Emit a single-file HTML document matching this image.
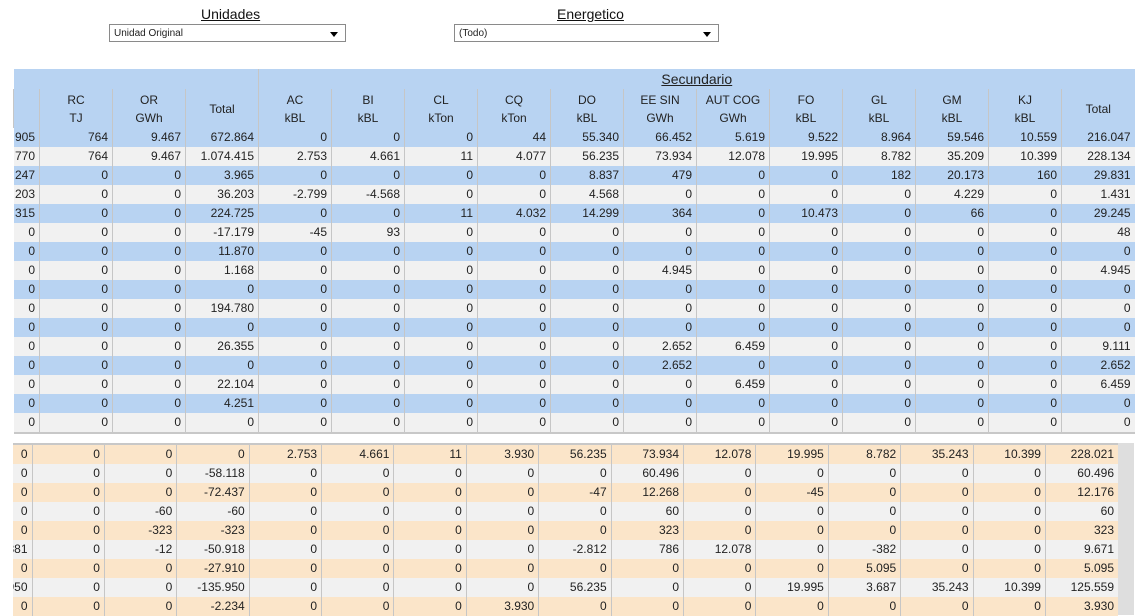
<!DOCTYPE html>
<html><head><meta charset="utf-8"><style>
body{margin:0;width:1144px;height:615px;overflow:hidden;background:#fff;font-family:"Liberation Sans",Arial,sans-serif;color:#222;position:relative}
.ttl{position:absolute;top:6px;font-size:14px;text-decoration:underline;color:#111}
.sel{position:absolute;top:24px;height:18px;border:1px solid #8a8a8a;background:#fff;font-size:10px;line-height:18px;padding-left:4px;box-sizing:border-box}
.sel:after{content:"";position:absolute;right:7px;top:7px;border-left:4px solid transparent;border-right:4px solid transparent;border-top:5px solid #000}
table{position:absolute;border-collapse:collapse;table-layout:fixed;font-size:12px}
td{padding:0 4px 0 0;text-align:right;overflow:hidden;white-space:nowrap;border-left:1px solid #c6c6c6;height:19px;line-height:19px;box-sizing:border-box}
td:first-child{direction:rtl;text-align:right}
#t1{left:13px;top:69px;width:1121px;border-bottom:2px solid #c8c8c8}
#t1 th{font-weight:normal;text-align:center;background:#b8d3f2;font-size:12px;line-height:18px;padding:0;border-left:1px solid #c6c6c6;box-sizing:border-box}
#t1 tr.b td{background:#b8d3f2}
#t1 tr.g td{background:#f1f1f1}
#t2{left:13px;top:443px;width:1105px;border-top:2px solid #c8c8c8}
#t2 tr.o td{background:#fbe5c9}
#t2 tr.g td{background:#f1f1f1}
td:first-child,th:first-child{border-left:none}
.sb{position:absolute;left:1118px;top:443px;width:16px;height:172px;background:#dedede}
</style></head><body>
<div class="ttl" style="left:201px">Unidades</div>
<div class="ttl" style="left:557px">Energetico</div>
<div class="sel" style="left:109px;width:237px">Unidad Original</div>
<div class="sel" style="left:454px;width:265px">(Todo)</div>

<table id="t1">
<colgroup><col style="width:26px"><col span="15" style="width:73px"></colgroup>
<tr><th colspan="4" style="border-left:none;height:20px"></th><th colspan="12" style="height:20px;font-size:14px;text-decoration:underline;vertical-align:bottom;line-height:20px">Secundario</th></tr>
<tr><th style="height:39px"></th><th>RC<br>TJ</th><th>OR<br>GWh</th><th>Total</th><th>AC<br>kBL</th><th>BI<br>kBL</th><th>CL<br>kTon</th><th>CQ<br>kTon</th><th>DO<br>kBL</th><th>EE SIN<br>GWh</th><th>AUT COG<br>GWh</th><th>FO<br>kBL</th><th>GL<br>kBL</th><th>GM<br>kBL</th><th>KJ<br>kBL</th><th>Total</th></tr>
<tr class="b"><td>7.905</td><td>764</td><td>9.467</td><td>672.864</td><td>0</td><td>0</td><td>0</td><td>44</td><td>55.340</td><td>66.452</td><td>5.619</td><td>9.522</td><td>8.964</td><td>59.546</td><td>10.559</td><td>216.047</td></tr>
<tr class="g"><td>3.770</td><td>764</td><td>9.467</td><td>1.074.415</td><td>2.753</td><td>4.661</td><td>11</td><td>4.077</td><td>56.235</td><td>73.934</td><td>12.078</td><td>19.995</td><td>8.782</td><td>35.209</td><td>10.399</td><td>228.134</td></tr>
<tr class="b"><td>2.247</td><td>0</td><td>0</td><td>3.965</td><td>0</td><td>0</td><td>0</td><td>0</td><td>8.837</td><td>479</td><td>0</td><td>0</td><td>182</td><td>20.173</td><td>160</td><td>29.831</td></tr>
<tr class="g"><td>5.203</td><td>0</td><td>0</td><td>36.203</td><td>-2.799</td><td>-4.568</td><td>0</td><td>0</td><td>4.568</td><td>0</td><td>0</td><td>0</td><td>0</td><td>4.229</td><td>0</td><td>1.431</td></tr>
<tr class="b"><td>9.315</td><td>0</td><td>0</td><td>224.725</td><td>0</td><td>0</td><td>11</td><td>4.032</td><td>14.299</td><td>364</td><td>0</td><td>10.473</td><td>0</td><td>66</td><td>0</td><td>29.245</td></tr>
<tr class="g"><td>0</td><td>0</td><td>0</td><td>-17.179</td><td>-45</td><td>93</td><td>0</td><td>0</td><td>0</td><td>0</td><td>0</td><td>0</td><td>0</td><td>0</td><td>0</td><td>48</td></tr>
<tr class="b"><td>0</td><td>0</td><td>0</td><td>11.870</td><td>0</td><td>0</td><td>0</td><td>0</td><td>0</td><td>0</td><td>0</td><td>0</td><td>0</td><td>0</td><td>0</td><td>0</td></tr>
<tr class="g"><td>0</td><td>0</td><td>0</td><td>1.168</td><td>0</td><td>0</td><td>0</td><td>0</td><td>0</td><td>4.945</td><td>0</td><td>0</td><td>0</td><td>0</td><td>0</td><td>4.945</td></tr>
<tr class="b"><td>0</td><td>0</td><td>0</td><td>0</td><td>0</td><td>0</td><td>0</td><td>0</td><td>0</td><td>0</td><td>0</td><td>0</td><td>0</td><td>0</td><td>0</td><td>0</td></tr>
<tr class="g"><td>0</td><td>0</td><td>0</td><td>194.780</td><td>0</td><td>0</td><td>0</td><td>0</td><td>0</td><td>0</td><td>0</td><td>0</td><td>0</td><td>0</td><td>0</td><td>0</td></tr>
<tr class="b"><td>0</td><td>0</td><td>0</td><td>0</td><td>0</td><td>0</td><td>0</td><td>0</td><td>0</td><td>0</td><td>0</td><td>0</td><td>0</td><td>0</td><td>0</td><td>0</td></tr>
<tr class="g"><td>0</td><td>0</td><td>0</td><td>26.355</td><td>0</td><td>0</td><td>0</td><td>0</td><td>0</td><td>2.652</td><td>6.459</td><td>0</td><td>0</td><td>0</td><td>0</td><td>9.111</td></tr>
<tr class="b"><td>0</td><td>0</td><td>0</td><td>0</td><td>0</td><td>0</td><td>0</td><td>0</td><td>0</td><td>2.652</td><td>0</td><td>0</td><td>0</td><td>0</td><td>0</td><td>2.652</td></tr>
<tr class="g"><td>0</td><td>0</td><td>0</td><td>22.104</td><td>0</td><td>0</td><td>0</td><td>0</td><td>0</td><td>0</td><td>6.459</td><td>0</td><td>0</td><td>0</td><td>0</td><td>6.459</td></tr>
<tr class="b"><td>0</td><td>0</td><td>0</td><td>4.251</td><td>0</td><td>0</td><td>0</td><td>0</td><td>0</td><td>0</td><td>0</td><td>0</td><td>0</td><td>0</td><td>0</td><td>0</td></tr>
<tr class="g"><td>0</td><td>0</td><td>0</td><td>0</td><td>0</td><td>0</td><td>0</td><td>0</td><td>0</td><td>0</td><td>0</td><td>0</td><td>0</td><td>0</td><td>0</td><td>0</td></tr>
</table>

<table id="t2">
<colgroup><col style="width:19px"><col span="15" style="width:72.4px"></colgroup>
<tr class="o"><td>0</td><td>0</td><td>0</td><td>0</td><td>2.753</td><td>4.661</td><td>11</td><td>3.930</td><td>56.235</td><td>73.934</td><td>12.078</td><td>19.995</td><td>8.782</td><td>35.243</td><td>10.399</td><td>228.021</td></tr>
<tr class="g"><td>0</td><td>0</td><td>0</td><td>-58.118</td><td>0</td><td>0</td><td>0</td><td>0</td><td>0</td><td>60.496</td><td>0</td><td>0</td><td>0</td><td>0</td><td>0</td><td>60.496</td></tr>
<tr class="o"><td>0</td><td>0</td><td>0</td><td>-72.437</td><td>0</td><td>0</td><td>0</td><td>0</td><td>-47</td><td>12.268</td><td>0</td><td>-45</td><td>0</td><td>0</td><td>0</td><td>12.176</td></tr>
<tr class="g"><td>0</td><td>0</td><td>-60</td><td>-60</td><td>0</td><td>0</td><td>0</td><td>0</td><td>0</td><td>60</td><td>0</td><td>0</td><td>0</td><td>0</td><td>0</td><td>60</td></tr>
<tr class="o"><td>0</td><td>0</td><td>-323</td><td>-323</td><td>0</td><td>0</td><td>0</td><td>0</td><td>0</td><td>323</td><td>0</td><td>0</td><td>0</td><td>0</td><td>0</td><td>323</td></tr>
<tr class="g"><td>381</td><td>0</td><td>-12</td><td>-50.918</td><td>0</td><td>0</td><td>0</td><td>0</td><td>-2.812</td><td>786</td><td>12.078</td><td>0</td><td>-382</td><td>0</td><td>0</td><td>9.671</td></tr>
<tr class="o"><td>0</td><td>0</td><td>0</td><td>-27.910</td><td>0</td><td>0</td><td>0</td><td>0</td><td>0</td><td>0</td><td>0</td><td>0</td><td>5.095</td><td>0</td><td>0</td><td>5.095</td></tr>
<tr class="g"><td>950</td><td>0</td><td>0</td><td>-135.950</td><td>0</td><td>0</td><td>0</td><td>0</td><td>56.235</td><td>0</td><td>0</td><td>19.995</td><td>3.687</td><td>35.243</td><td>10.399</td><td>125.559</td></tr>
<tr class="o"><td>0</td><td>0</td><td>0</td><td>-2.234</td><td>0</td><td>0</td><td>0</td><td>3.930</td><td>0</td><td>0</td><td>0</td><td>0</td><td>0</td><td>0</td><td>0</td><td>3.930</td></tr>
</table>
<div class="sb"></div>
</body></html>
